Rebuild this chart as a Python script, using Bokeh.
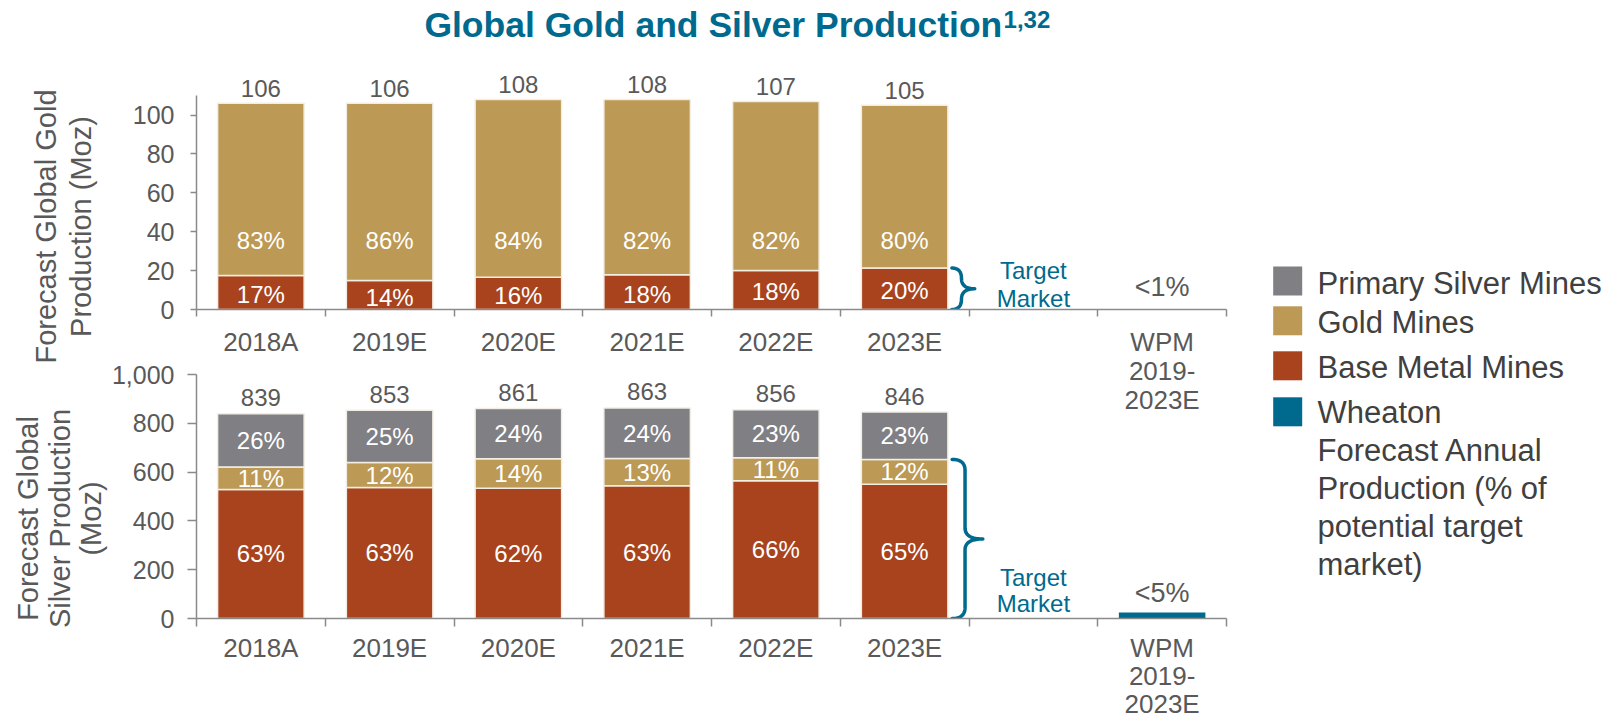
import numpy as np
from bokeh.plotting import figure
from bokeh.models import Range1d, FixedTicker, NumeralTickFormatter
from bokeh.layouts import column, row
from bokeh.embed import file_html
from bokeh.resources import INLINE
from bokeh.core.properties import value

# ---------------- data ----------------
categories = ["2018A", "2019E", "2020E", "2021E", "2022E", "2023E", "", "WPM\n2019-\n2023E"]

# Global gold production (Moz)
gold_totals = [106, 106, 108, 108, 107, 105]
gold_from_base_metal = [17.5, 14.9, 16.6, 17.9, 20.1, 21.3]
gold_from_gold_mines = [88.5, 91.1, 91.4, 90.1, 86.9, 83.7]
gold_base_pct = ["17%", "14%", "16%", "18%", "18%", "20%"]
gold_mines_pct = ["83%", "86%", "84%", "82%", "82%", "80%"]
wpm_gold = 0.2
wpm_gold_label = "<1%"

# Global silver production (Moz)
silver_totals = [839, 853, 861, 863, 856, 846]
silver_from_base_metal = [529, 537, 534, 544, 565, 550]
silver_from_gold_mines = [92, 102, 121, 112, 94, 102]
silver_from_primary = [218, 214, 206, 207, 197, 194]
silver_base_pct = ["63%", "63%", "62%", "63%", "66%", "65%"]
silver_gold_pct = ["11%", "12%", "14%", "13%", "11%", "12%"]
silver_primary_pct = ["26%", "25%", "24%", "24%", "23%", "23%"]
wpm_silver = 25
wpm_silver_label = "<5%"

legend_labels = ["Primary Silver Mines", "Gold Mines", "Base Metal Mines",
                 "Wheaton\nForecast Annual\nProduction (% of\npotential target\nmarket)"]

title_text = "Global Gold and Silver Production"
title_sup = "1,32"
gold_axis_title = ["Forecast Global Gold", "Production (Moz)"]
silver_axis_title = ["Forecast Global", "Silver Production", "(Moz)"]

# ---------------- style ----------------
FONT = "Liberation Sans"
C_SILVER = "#7F7F84"
C_GOLD = "#BC9954"
C_BASE = "#A8431E"
C_TEAL = "#006A8E"
C_TXT = "#595959"
C_LEG = "#404040"
C_AXIS = "#8A8A8A"
C_EDGE = "#F3EEE3"
BAR_W = 0.672

AX_W, MID_W, LEG_W = 108, 1160, 342
TOP_H, BOT_H, OVERLAP = 425, 362, 65
TOTAL_H = TOP_H + BOT_H - OVERLAP
MID_LEFT = AX_W            # page x of the chart figures
LEG_LEFT = AX_W + MID_W

# top chart frame (page coordinates)
T_LEFT, T_ZERO, T_FW, T_PPY = 191, 309, 1035, 1.945
T_PPX = T_FW / 8
T_YMAX = T_ZERO / T_PPY
# bottom chart frame
B_LEFT, B_ZERO, B_FW, B_FH, B_YMAX = 193, 618, 1040, 244, 1000
B_PPX, B_PPY = B_FW / 8, B_FH / B_YMAX
B_PAGE_TOP = TOP_H - OVERLAP


def tx(px):
    return (px - T_LEFT) / T_PPX - 0.5


def ty(py):
    return (T_ZERO - py) / T_PPY


def bx(px):
    return (px - B_LEFT) / B_PPX - 0.5


def by(py):
    return (B_ZERO - py) / B_PPY


def style_common(p):
    p.xgrid.visible = False
    p.ygrid.visible = False
    p.outline_line_color = None
    p.background_fill_color = None
    p.border_fill_color = None


def style_xaxis(ax, standoff, tick_out, line_h):
    ax.ticker = FixedTicker(ticks=list(range(len(categories))),
                            minor_ticks=[i - 0.5 for i in range(len(categories) + 1)])
    ax.major_label_overrides = {i: c for i, c in enumerate(categories)}
    ax.major_tick_line_color = None
    ax.major_tick_out = 0
    ax.major_tick_in = 0
    ax.minor_tick_line_color = C_AXIS
    ax.minor_tick_line_width = 1.5
    ax.minor_tick_out = tick_out
    ax.minor_tick_in = 0
    ax.axis_line_color = C_AXIS
    ax.axis_line_width = 1.5
    ax.major_label_text_font = FONT
    ax.major_label_text_font_size = "26px"
    ax.major_label_text_color = C_TXT
    ax.major_label_standoff = standoff
    ax.major_label_text_line_height = line_h


def style_yaxis(ax, ticks, tick_out, standoff):
    ax.ticker = FixedTicker(ticks=ticks)
    ax.minor_tick_line_color = None
    ax.major_tick_line_color = C_AXIS
    ax.major_tick_line_width = 1.5
    ax.major_tick_out = tick_out
    ax.major_tick_in = 0
    ax.axis_line_color = C_AXIS
    ax.axis_line_width = 1.5
    ax.major_label_text_font = FONT
    ax.major_label_text_font_size = "25px"
    ax.major_label_text_color = C_TXT
    ax.major_label_standoff = standoff


def quad_bez(p0, c, p1, n=20):
    t = np.linspace(0, 1, n)
    u = (1 - t) ** 2 * p0[0] + 2 * (1 - t) * t * c[0] + t ** 2 * p1[0]
    v = (1 - t) ** 2 * p0[1] + 2 * (1 - t) * t * c[1] + t ** 2 * p1[1]
    return list(u), list(v)


def draw_brace(p, x_left, y_low, y_high, ppx, ppy, tip_w):
    H = (y_high - y_low) * ppy
    W = tip_w
    w1 = 0.42 * W
    r = min(11.0, H / 4)
    us, vs = [], []
    for seg in [((0, 0), (w1, 0), (w1, r)),
                ((w1, r), (w1, r), (w1, H / 2 - r)),
                ((w1, H / 2 - r), (w1, H / 2), (W, H / 2)),
                ((W, H / 2), (w1, H / 2), (w1, H / 2 + r)),
                ((w1, H / 2 + r), (w1, H / 2 + r), (w1, H - r)),
                ((w1, H - r), (w1, H), (0, H))]:
        u, v = quad_bez(*seg)
        us += u
        vs += v
    xs = [x_left + u / ppx for u in us]
    ys = [y_high - v / ppy for v in vs]
    p.line(xs, ys, line_color=C_TEAL, line_width=3.5, line_cap="round", line_join="round")


idx = list(range(6))

# ================= top chart: gold =================
top = figure(x_range=Range1d(-0.5, 7.5), y_range=Range1d(0, T_YMAX),
             width=MID_W, height=TOP_H,
             min_border_left=T_LEFT - MID_LEFT, min_border_right=MID_W - (T_LEFT - MID_LEFT) - T_FW,
             min_border_top=0, min_border_bottom=TOP_H - T_ZERO,
             output_backend="svg", toolbar_location=None)
style_common(top)

g_base = np.array(gold_from_base_metal)
g_gold = np.array(gold_from_gold_mines)
g_top = g_base + g_gold
top.vbar(x=idx, width=BAR_W, bottom=0, top=g_base, fill_color=C_BASE, line_color=C_EDGE, line_width=1.5)
top.vbar(x=idx, width=BAR_W, bottom=g_base, top=g_top, fill_color=C_GOLD, line_color=C_EDGE, line_width=1.5)
top.vbar(x=[7], width=BAR_W, bottom=0, top=[wpm_gold], fill_color=C_TEAL, line_color=None)

top.text(x=idx, y=g_top, text=[str(v) for v in gold_totals], text_align="center", text_baseline="middle",
         y_offset=-15, text_font=value(FONT), text_font_size="24px", text_color=C_TXT)
top.text(x=idx, y=g_base / 2, text=gold_base_pct, text_align="center", text_baseline="middle",
         y_offset=2, text_font=value(FONT), text_font_size="24px", text_color="white")
top.text(x=idx, y=[ty(240)] * 6, text=gold_mines_pct, text_align="center", text_baseline="middle",
         text_font=value(FONT), text_font_size="24px", text_color="white")
top.text(x=[7], y=[wpm_gold], text=[wpm_gold_label], text_align="center", text_baseline="middle",
         y_offset=-22, text_font=value(FONT), text_font_size="27px", text_color=C_TXT)
top.text(x=[6], y=[ty(284)], text=["Target\nMarket"], text_align="center", text_baseline="middle",
         text_line_height=1.045, text_font=value(FONT), text_font_size="24px", text_color=C_TEAL)
draw_brace(top, 5 + BAR_W / 2 + 4 / T_PPX, 0, g_base[5], T_PPX, T_PPY, 23)

# title with superscript
top.text(x=[tx(420)], y=[ty(24.5)], text=[title_text], text_align="left", text_baseline="middle",
         text_font=value(FONT), text_font_size="35.5px", text_font_style="bold", text_color=C_TEAL)
top.text(x=[tx(1002)], y=[ty(19)], text=[title_sup], text_align="left", text_baseline="middle",
         text_font=value(FONT), text_font_size="24px", text_font_style="bold", text_color=C_TEAL)

style_xaxis(top.xaxis[0], 10, 7, 0.98)
style_yaxis(top.yaxis[0], [0, 20, 40, 60, 80, 100], 6, 16)
top.yaxis[0].bounds = (0, 110)

# ================= bottom chart: silver =================
bot = figure(x_range=Range1d(-0.5, 7.5), y_range=Range1d(0, B_YMAX),
             width=MID_W, height=BOT_H,
             min_border_left=B_LEFT - MID_LEFT, min_border_right=MID_W - (B_LEFT - MID_LEFT) - B_FW,
             min_border_top=(B_ZERO - B_FH) - B_PAGE_TOP,
             min_border_bottom=BOT_H - ((B_ZERO - B_FH) - B_PAGE_TOP) - B_FH,
             output_backend="svg", toolbar_location=None,
             margin=(-OVERLAP, 0, 0, 0))
style_common(bot)

s_base = np.array(silver_from_base_metal)
s_gold = np.array(silver_from_gold_mines)
s_prim = np.array(silver_from_primary)
s_b2 = s_base + s_gold
s_top = s_b2 + s_prim
bot.vbar(x=idx, width=BAR_W, bottom=0, top=s_base, fill_color=C_BASE, line_color=C_EDGE, line_width=1.5)
bot.vbar(x=idx, width=BAR_W, bottom=s_base, top=s_b2, fill_color=C_GOLD, line_color=C_EDGE, line_width=1.5)
bot.vbar(x=idx, width=BAR_W, bottom=s_b2, top=s_top, fill_color=C_SILVER, line_color=C_EDGE, line_width=1.5)
bot.vbar(x=[7], width=BAR_W, bottom=0, top=[wpm_silver], fill_color=C_TEAL, line_color=None)

bot.text(x=idx, y=s_top, text=[str(v) for v in silver_totals], text_align="center", text_baseline="middle",
         y_offset=-16, text_font=value(FONT), text_font_size="24px", text_color=C_TXT)
for bottoms, tops, labels in [(np.zeros(6), s_base, silver_base_pct),
                              (s_base, s_b2, silver_gold_pct),
                              (s_b2, s_top, silver_primary_pct)]:
    bot.text(x=idx, y=(bottoms + tops) / 2, text=labels, text_align="center", text_baseline="middle",
             text_font=value(FONT), text_font_size="24px", text_color="white")
bot.text(x=[7], y=[wpm_silver], text=[wpm_silver_label], text_align="center", text_baseline="middle",
         y_offset=-19, text_font=value(FONT), text_font_size="27px", text_color=C_TXT)
bot.text(x=[6], y=[by(590)], text=["Target\nMarket"], text_align="center", text_baseline="middle",
         text_line_height=0.99, text_font=value(FONT), text_font_size="24px", text_color=C_TEAL)
draw_brace(bot, 5 + BAR_W / 2 + 4.3 / B_PPX, 0, s_b2[5], B_PPX, B_PPY, 31)

style_xaxis(bot.xaxis[0], 6, 8, 0.94)
style_yaxis(bot.yaxis[0], [0, 200, 400, 600, 800, 1000], 9, 13)
bot.yaxis[0].formatter = NumeralTickFormatter(format="0,0")

# ================= left strip: y-axis titles =================
axt = figure(width=AX_W, height=TOTAL_H, x_range=Range1d(0, AX_W), y_range=Range1d(TOTAL_H, 0),
             x_axis_location=None, y_axis_location=None, min_border=0,
             output_backend="svg", toolbar_location=None)
style_common(axt)
axt.text(x=[45, 80], y=[226, 226], text=gold_axis_title, angle=np.pi / 2,
         text_align="center", text_baseline="middle",
         text_font=value(FONT), text_font_size="29px", text_color=C_TXT)
axt.text(x=[27, 59, 90], y=[518, 518, 518], text=silver_axis_title, angle=np.pi / 2,
         text_align="center", text_baseline="middle",
         text_font=value(FONT), text_font_size="29px", text_color=C_TXT)

# ================= legend =================
leg = figure(width=LEG_W, height=TOTAL_H, x_range=Range1d(LEG_LEFT, LEG_LEFT + LEG_W),
             y_range=Range1d(TOTAL_H, 0),
             x_axis_location=None, y_axis_location=None, min_border=0,
             output_backend="svg", toolbar_location=None)
style_common(leg)
leg_colors = [C_SILVER, C_GOLD, C_BASE, C_TEAL]
leg_centers = [280.5, 320.3, 365.3, 411.3]
leg_line = 37.4
leg.quad(left=1272.7, right=1301.7, top=[c - 14.5 for c in leg_centers],
         bottom=[c + 14.5 for c in leg_centers], fill_color=leg_colors, line_color=None)
leg_y = [c + 2 + (lab.count("\n")) / 2 * leg_line for c, lab in zip(leg_centers, legend_labels)]
leg.text(x=1317, y=leg_y, text=legend_labels, text_align="left", text_baseline="middle",
         text_line_height=leg_line / (1.117 * 31), text_font=value(FONT), text_font_size="31px",
         text_color=C_LEG)

layout = row(axt, column(top, bot), leg)
open("out.html", "w").write(file_html(layout, INLINE))
